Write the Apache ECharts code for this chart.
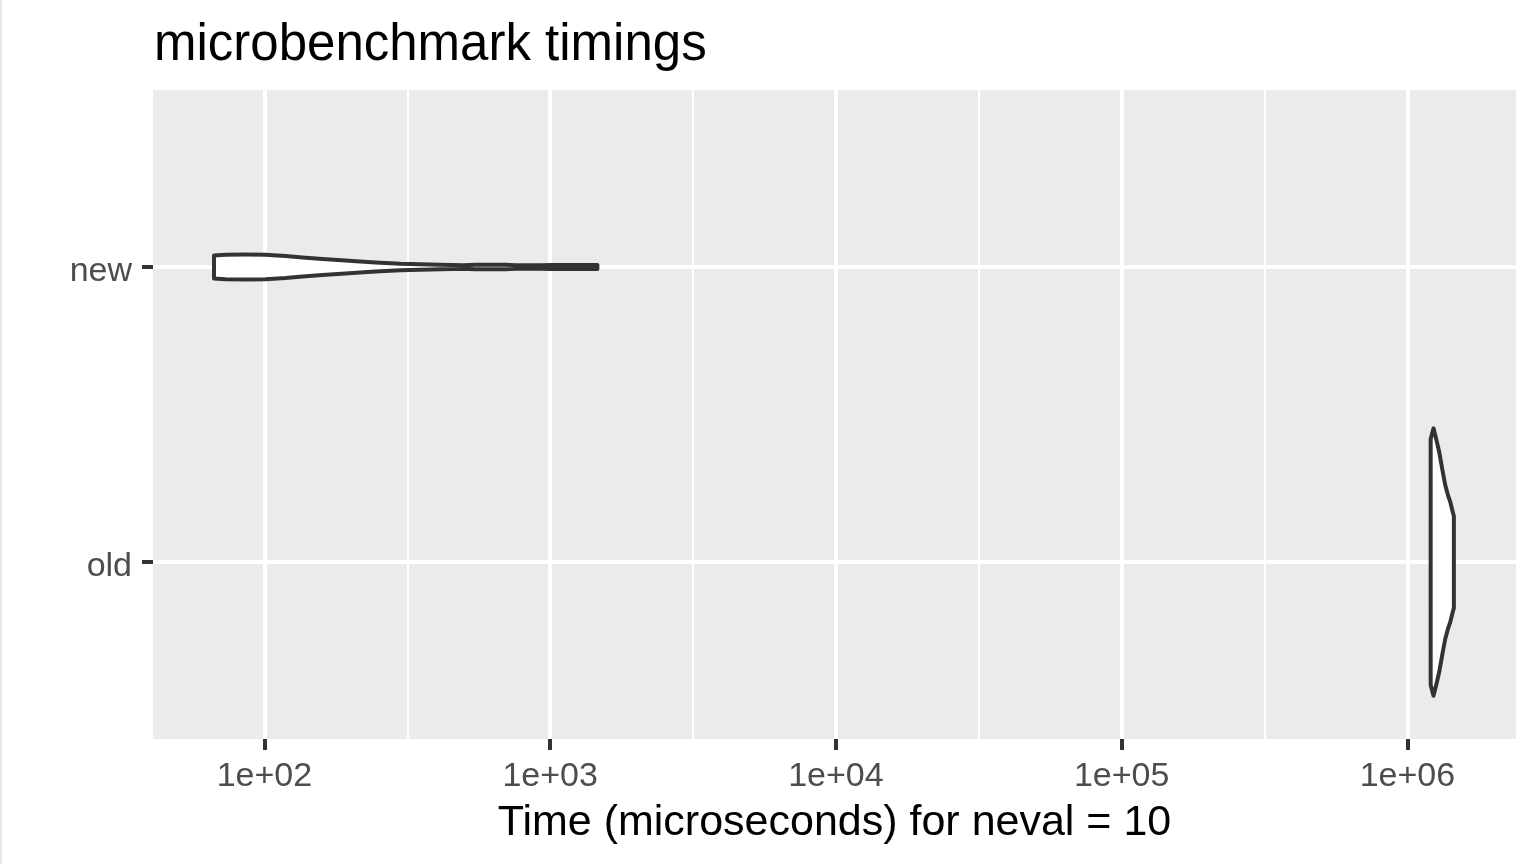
<!DOCTYPE html>
<html>
<head>
<meta charset="utf-8">
<script src="https://cdn.jsdelivr.net/npm/echarts@6/dist/echarts.min.js"></script>
<style>
  html, body { margin: 0; padding: 0; background: #ffffff; }
  #chart { width: 1537px; height: 864px; }
  #edge { position: absolute; left: 0; top: 0; width: 2px; height: 864px; background: #e6e6e6; }
</style>
</head>
<body>
<div id="chart"></div>
<div id="edge"></div>
<script>
// ---- data ----
const categories = ['old', 'new'];            // y positions 1 and 2
const categoryPositions = [1, 2];

// "new" violin: times (microseconds) and half-width of the density (in category units)
const newTimes     = [66.6, 73.0, 85.8, 100.8, 118.4, 135.8, 159.6, 192.1, 203.2, 244.6, 299.2, 412.9, 497, 547, 697, 755, 924, 1002, 1463];
const newHalfWidth = [0.039, 0.0417, 0.0424, 0.0417, 0.0373, 0.0322, 0.0271, 0.0224, 0.0207, 0.0153, 0.0109, 0.0075, 0.0062, 0.0075, 0.0075, 0.0058, 0.0058, 0.0068, 0.007];

// "old" violin
const oldTimes     = [1.206e6, 1.234e6, 1.261e6, 1.292e6, 1.324e6, 1.356e6, 1.389e6, 1.412e6, 1.435e6, 1.454e6];
const oldHalfWidth = [0.417, 0.453, 0.417, 0.373, 0.315, 0.261, 0.224, 0.204, 0.176, 0.156];

const xTickValues = [100, 1000, 10000, 100000, 1000000];
const xTickLabels = ['1e+02', '1e+03', '1e+04', '1e+05', '1e+06'];

const titleText = 'microbenchmark timings';
const xAxisTitle = 'Time (microseconds) for neval = 10';

// ---- build ----
const violins = [
  { name: 'old', pos: categoryPositions[0], times: oldTimes, hw: oldHalfWidth },
  { name: 'new', pos: categoryPositions[1], times: newTimes, hw: newHalfWidth }
];
const xTickLogs = xTickValues.map(v => Math.log10(v));

const chart = echarts.init(document.getElementById('chart'), null, { renderer: 'canvas' });

const option = {
  animation: false,
  backgroundColor: '#ffffff',
  title: {
    text: titleText,
    left: 149,
    top: 15,
    textStyle: { fontFamily: 'Liberation Sans, Arial, sans-serif', fontSize: 51, fontWeight: 'normal', color: '#000000' }
  },
  grid: {
    left: 153, right: 21, top: 90, bottom: 125,
    show: true, backgroundColor: '#EBEBEB', borderWidth: 0,
    containLabel: false
  },
  xAxis: {
    type: 'value',
    min: 1.61,
    max: 6.38,
    splitNumber: 5,
    axisLine: { show: false },
    axisTick: {
      show: true, length: 11, customValues: xTickLogs,
      lineStyle: { color: '#333333', width: 4 }
    },
    axisLabel: {
      show: true, customValues: xTickLogs, margin: 21,
      fontFamily: 'Liberation Sans, Arial, sans-serif', fontSize: 34, color: '#4D4D4D',
      formatter: function (v) {
        const i = xTickLogs.findIndex(t => Math.abs(t - v) < 1e-6);
        return i >= 0 ? xTickLabels[i] : '';
      }
    },
    splitLine: { show: true, lineStyle: { color: '#ffffff', width: 4 } },
    minorTick: { show: false, splitNumber: 2 },
    minorSplitLine: { show: true, lineStyle: { color: '#ffffff', width: 2 } },
    name: xAxisTitle,
    nameLocation: 'middle',
    nameGap: 63,
    nameTextStyle: { fontFamily: 'Liberation Sans, Arial, sans-serif', fontSize: 43, color: '#000000' }
  },
  yAxis: {
    type: 'value',
    min: 0.4,
    max: 2.6,
    axisLine: { show: false },
    axisTick: {
      show: true, length: 11, customValues: categoryPositions,
      lineStyle: { color: '#333333', width: 4 }
    },
    axisLabel: {
      show: true, customValues: categoryPositions, margin: 21,
      verticalAlign: 'top', lineHeight: 10,
      fontFamily: 'Liberation Sans, Arial, sans-serif', fontSize: 34, color: '#4D4D4D',
      formatter: function (v) {
        const i = categoryPositions.findIndex(p => Math.abs(p - v) < 1e-6);
        return i >= 0 ? categories[i] : '';
      }
    },
    splitLine: { show: true, lineStyle: { color: '#ffffff', width: 4 } },
    minorSplitLine: { show: false }
  },
  series: [{
    type: 'custom',
    coordinateSystem: 'cartesian2d',
    clip: false,
    data: violins.map(v => ({ name: v.name, value: [Math.log10(v.times[0]), v.pos] })),
    encode: { x: 0, y: 1 },
    renderItem: function (params, api) {
      const v = violins[params.dataIndex];
      const pts = [];
      for (let i = 0; i < v.times.length; i++) {
        pts.push(api.coord([Math.log10(v.times[i]), v.pos + v.hw[i]]));
      }
      for (let i = v.times.length - 1; i >= 0; i--) {
        pts.push(api.coord([Math.log10(v.times[i]), v.pos - v.hw[i]]));
      }
      return {
        type: 'polygon',
        shape: { points: pts },
        style: { fill: '#ffffff', stroke: '#333333', lineWidth: 4, lineJoin: 'round' }
      };
    }
  }]
};

chart.setOption(option);
</script>
</body>
</html>
